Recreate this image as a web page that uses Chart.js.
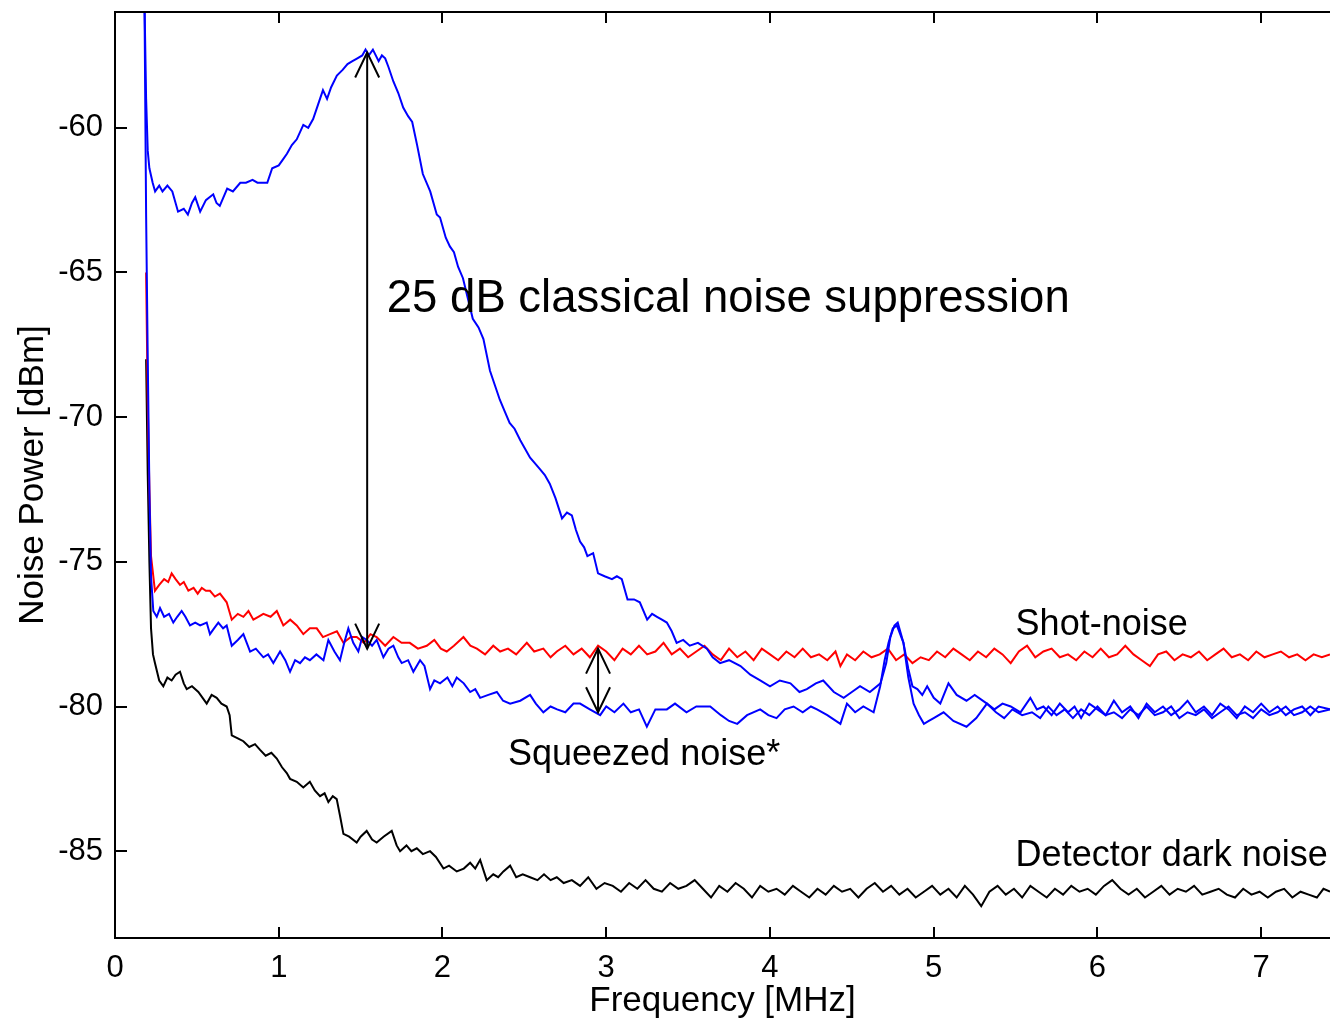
<!DOCTYPE html>
<html>
<head>
<meta charset="utf-8">
<script src="https://cdn.jsdelivr.net/npm/chart.js@4"></script>
<style>
  html, body { margin: 0; padding: 0; background: #fff; }
  canvas { display: block; }
</style>
</head>
<body>
<canvas id="noiseChart" width="1330" height="1022"></canvas>
<script>
// [frequency MHz, noise power dBm]
const classicalNoise = [
  [0.18,-55.6],[0.19,-59.0],[0.2,-60.8],[0.21,-61.4],[0.23,-61.9],[0.245,-62.2],[0.27,-62.0],[0.29,-62.2],[0.32,-62.0],[0.35,-62.2],
  [0.385,-62.9],[0.42,-62.8],[0.445,-63.0],[0.47,-62.6],[0.49,-62.4],[0.52,-62.9],[0.555,-62.5],[0.6,-62.3],[0.62,-62.6],[0.64,-62.7],
  [0.685,-62.1],[0.72,-62.2],[0.765,-61.9],[0.8,-61.9],[0.84,-61.8],[0.87,-61.9],[0.93,-61.9],[0.96,-61.4],[1.0,-61.3],[1.025,-61.1],
  [1.05,-60.9],[1.08,-60.6],[1.11,-60.4],[1.15,-59.9],[1.18,-60.0],[1.21,-59.7],[1.24,-59.2],[1.27,-58.7],[1.295,-59.0],[1.32,-58.6],
  [1.355,-58.2],[1.39,-58.0],[1.42,-57.8],[1.45,-57.7],[1.48,-57.6],[1.51,-57.5],[1.53,-57.3],[1.55,-57.5],[1.575,-57.3],[1.61,-57.7],
  [1.63,-57.5],[1.65,-57.6],[1.67,-57.9],[1.7,-58.4],[1.73,-58.8],[1.76,-59.3],[1.79,-59.6],[1.815,-59.8],[1.845,-60.6],[1.88,-61.6],
  [1.925,-62.2],[1.965,-63.0],[1.985,-63.1],[2.02,-63.8],[2.045,-64.1],[2.07,-64.3],[2.095,-64.8],[2.125,-65.2],[2.155,-65.9],[2.185,-66.6],
  [2.22,-66.9],[2.25,-67.3],[2.29,-68.4],[2.32,-68.9],[2.35,-69.4],[2.38,-69.8],[2.41,-70.2],[2.44,-70.4],[2.475,-70.8],[2.505,-71.1],
  [2.535,-71.4],[2.565,-71.6],[2.595,-71.8],[2.625,-72.0],[2.655,-72.3],[2.69,-72.8],[2.73,-73.5],[2.76,-73.3],[2.79,-73.4],[2.815,-73.9],
  [2.84,-74.3],[2.865,-74.5],[2.885,-74.8],[2.92,-74.7],[2.95,-75.4],[2.99,-75.5],[3.035,-75.6],[3.065,-75.5],[3.095,-75.6],[3.13,-76.3],
  [3.17,-76.3],[3.205,-76.4],[3.25,-77.0],[3.28,-76.8],[3.31,-76.9],[3.34,-77.0],[3.37,-77.1],[3.4,-77.4],[3.43,-77.8],[3.47,-77.7],
  [3.51,-77.9],[3.56,-77.8],[3.615,-78.0],[3.65,-78.3],[3.695,-78.5],[3.75,-78.4],[3.82,-78.6],[3.88,-78.9],[3.94,-79.1],[4.0,-79.3],
  [4.06,-79.1],[4.125,-79.2],[4.18,-79.5],[4.225,-79.4],[4.28,-79.2],[4.325,-79.1],[4.39,-79.5],[4.45,-79.7],[4.5,-79.5],[4.55,-79.3],
  [4.61,-79.5],[4.675,-79.2],[4.71,-78.5],[4.735,-77.6],[4.76,-77.2],[4.78,-77.1],[4.815,-77.8],[4.845,-78.7],[4.87,-79.3],[4.9,-79.4],
  [4.93,-79.6],[4.96,-79.3],[5.0,-79.7],[5.04,-79.9],[5.09,-79.2],[5.14,-79.6],[5.2,-79.8],[5.25,-79.6],[5.325,-79.9],[5.37,-80.1],
  [5.42,-79.9],[5.47,-80.0],[5.53,-80.2],[5.59,-79.7],[5.63,-80.1],[5.67,-80.0],[5.72,-80.3],[5.77,-79.9],[5.82,-80.2],[5.86,-80.0],
  [5.9,-80.4],[5.95,-79.9],[6.0,-80.1],[6.05,-80.3],[6.1,-79.8],[6.15,-80.2],[6.2,-80.0],[6.25,-80.4],[6.3,-79.9],[6.35,-80.2],
  [6.4,-80.0],[6.45,-80.3],[6.5,-80.1],[6.55,-79.8],[6.6,-80.2],[6.65,-80.0],[6.7,-80.3],[6.75,-79.9],[6.8,-80.1],[6.85,-80.4],
  [6.9,-80.0],[6.95,-80.2],[7.0,-79.9],[7.05,-80.2],[7.1,-80.0],[7.15,-80.3],[7.2,-80.1],[7.25,-80.0],[7.3,-80.3],[7.35,-80.0],[7.42,-80.1]
];

const squeezedNoise = [
  [0.18,-55.6],[0.19,-63.0],[0.2,-68.0],[0.21,-72.5],[0.22,-75.5],[0.234,-76.7],[0.255,-76.9],[0.275,-76.6],[0.3,-76.9],[0.33,-76.8],
  [0.356,-77.1],[0.38,-76.9],[0.407,-76.7],[0.43,-76.9],[0.458,-77.2],[0.49,-77.1],[0.52,-77.2],[0.56,-77.1],[0.58,-77.5],[0.605,-77.3],
  [0.631,-77.1],[0.66,-77.3],[0.682,-77.2],[0.713,-77.9],[0.75,-77.7],[0.784,-77.5],[0.825,-78.1],[0.86,-78.0],[0.906,-78.3],[0.935,-78.2],
  [0.967,-78.5],[1.008,-78.1],[1.04,-78.4],[1.069,-78.8],[1.1,-78.4],[1.13,-78.5],[1.16,-78.3],[1.19,-78.4],[1.23,-78.2],[1.273,-78.4],
  [1.303,-77.7],[1.34,-78.1],[1.374,-78.4],[1.4,-77.8],[1.425,-77.3],[1.455,-77.8],[1.486,-78.1],[1.51,-77.6],[1.537,-77.7],[1.57,-77.9],
  [1.598,-77.7],[1.639,-78.3],[1.67,-78.0],[1.7,-77.9],[1.73,-78.3],[1.751,-78.5],[1.79,-78.4],[1.822,-78.8],[1.863,-78.4],[1.89,-78.6],
  [1.924,-79.4],[1.95,-79.1],[1.985,-79.2],[2.03,-79.0],[2.06,-79.3],[2.087,-79.0],[2.13,-79.2],[2.169,-79.5],[2.2,-79.4],[2.23,-79.7],
  [2.28,-79.6],[2.332,-79.5],[2.37,-79.8],[2.413,-79.9],[2.475,-79.8],[2.535,-79.6],[2.57,-79.9],[2.616,-80.2],[2.66,-80.0],[2.7,-80.1],
  [2.75,-80.2],[2.8,-79.9],[2.84,-79.9],[2.9,-80.1],[2.963,-80.3],[3.0,-80.0],[3.05,-80.2],[3.105,-79.9],[3.15,-80.2],[3.2,-80.1],
  [3.248,-80.7],[3.3,-80.1],[3.37,-80.1],[3.42,-79.9],[3.49,-80.2],[3.55,-80.0],[3.635,-80.0],[3.7,-80.3],[3.75,-80.5],[3.8,-80.6],
  [3.86,-80.3],[3.94,-80.1],[3.99,-80.3],[4.04,-80.4],[4.09,-80.1],[4.144,-80.0],[4.2,-80.2],[4.25,-80.0],[4.287,-80.1],[4.35,-80.3],
  [4.43,-80.6],[4.47,-79.9],[4.52,-80.2],[4.57,-80.0],[4.633,-80.2],[4.673,-79.3],[4.7,-78.4],[4.724,-77.8],[4.75,-77.3],[4.775,-77.2],
  [4.815,-77.8],[4.845,-79.0],[4.877,-79.9],[4.91,-80.3],[4.94,-80.6],[4.97,-80.5],[5.0,-80.4],[5.06,-80.2],[5.12,-80.5],[5.2,-80.7],
  [5.26,-80.4],[5.325,-79.9],[5.38,-80.2],[5.43,-80.4],[5.48,-80.1],[5.54,-80.3],[5.6,-80.2],[5.65,-80.4],[5.7,-80.0],[5.75,-80.3],
  [5.8,-80.1],[5.85,-80.4],[5.9,-80.1],[5.95,-80.3],[6.0,-80.0],[6.05,-80.3],[6.1,-80.2],[6.15,-80.4],[6.2,-80.1],[6.25,-80.3],
  [6.3,-80.0],[6.35,-80.3],[6.4,-80.2],[6.45,-80.0],[6.5,-80.4],[6.55,-80.2],[6.6,-80.3],[6.65,-80.1],[6.7,-80.4],[6.75,-80.2],
  [6.8,-80.0],[6.85,-80.3],[6.9,-80.2],[6.95,-80.4],[7.0,-80.1],[7.05,-80.3],[7.1,-80.2],[7.15,-80.0],[7.2,-80.3],[7.25,-80.2],
  [7.3,-80.0],[7.35,-80.2],[7.42,-80.1]
];

const shotNoise = [
  [0.19,-65.0],[0.2,-69.5],[0.21,-72.5],[0.22,-74.8],[0.244,-76.0],[0.27,-75.8],[0.3,-75.6],[0.325,-75.7],[0.346,-75.4],[0.37,-75.6],
  [0.397,-75.8],[0.42,-75.7],[0.448,-76.0],[0.48,-75.9],[0.505,-76.1],[0.53,-75.9],[0.555,-76.0],[0.58,-76.0],[0.61,-76.2],[0.641,-76.1],
  [0.682,-76.4],[0.713,-77.0],[0.75,-76.8],[0.784,-76.9],[0.815,-76.7],[0.845,-77.0],[0.875,-76.9],[0.906,-76.8],[0.95,-76.9],[0.988,-76.7],
  [1.028,-77.2],[1.07,-77.0],[1.11,-77.2],[1.15,-77.5],[1.19,-77.3],[1.232,-77.3],[1.27,-77.6],[1.313,-77.5],[1.355,-77.4],[1.395,-77.8],
  [1.44,-77.6],[1.476,-77.6],[1.52,-77.8],[1.56,-77.5],[1.598,-77.6],[1.65,-77.9],[1.7,-77.6],[1.75,-77.8],[1.8,-77.8],[1.85,-78.0],
  [1.904,-77.9],[1.95,-77.7],[1.99,-78.0],[2.026,-78.1],[2.07,-77.9],[2.128,-77.6],[2.17,-77.9],[2.21,-78.0],[2.26,-78.2],[2.31,-77.9],
  [2.352,-78.1],[2.4,-78.0],[2.45,-78.2],[2.515,-77.8],[2.56,-78.1],[2.616,-78.0],[2.66,-78.3],[2.698,-78.1],[2.75,-77.9],[2.8,-78.2],
  [2.85,-78.0],[2.9,-78.3],[2.95,-77.9],[3.0,-78.1],[3.05,-78.4],[3.1,-78.0],[3.15,-78.2],[3.2,-77.9],[3.25,-78.2],[3.3,-78.1],
  [3.35,-77.8],[3.4,-78.2],[3.45,-78.0],[3.5,-78.3],[3.55,-78.1],[3.6,-77.9],[3.65,-78.2],[3.7,-78.4],[3.75,-78.0],[3.8,-78.3],
  [3.85,-78.1],[3.9,-78.4],[3.95,-78.0],[4.0,-78.2],[4.05,-78.4],[4.1,-78.1],[4.15,-78.3],[4.2,-78.0],[4.25,-78.3],[4.3,-78.2],
  [4.35,-78.4],[4.4,-78.1],[4.43,-78.6],[4.47,-78.2],[4.52,-78.4],[4.57,-78.1],[4.62,-78.3],[4.67,-78.2],[4.72,-78.0],[4.77,-78.4],
  [4.82,-78.2],[4.87,-78.5],[4.92,-78.3],[4.97,-78.4],[5.02,-78.1],[5.07,-78.3],[5.12,-78.0],[5.17,-78.2],[5.22,-78.4],[5.27,-78.1],
  [5.32,-78.3],[5.37,-78.0],[5.42,-78.2],[5.47,-78.5],[5.52,-78.1],[5.57,-77.9],[5.62,-78.3],[5.67,-78.1],[5.72,-78.0],[5.77,-78.3],
  [5.82,-78.2],[5.87,-78.4],[5.92,-78.1],[5.97,-78.3],[6.02,-78.0],[6.07,-78.3],[6.12,-78.2],[6.17,-77.9],[6.22,-78.2],[6.27,-78.4],
  [6.32,-78.6],[6.37,-78.2],[6.42,-78.1],[6.47,-78.4],[6.52,-78.2],[6.57,-78.3],[6.62,-78.1],[6.67,-78.4],[6.72,-78.2],[6.77,-78.0],
  [6.82,-78.3],[6.87,-78.2],[6.92,-78.4],[6.97,-78.1],[7.02,-78.3],[7.07,-78.2],[7.12,-78.1],[7.17,-78.3],[7.22,-78.2],[7.27,-78.4],
  [7.32,-78.2],[7.37,-78.3],[7.42,-78.2]
];

const darkNoise = [
  [0.19,-68.0],[0.2,-72.0],[0.21,-75.0],[0.22,-77.3],[0.232,-78.2],[0.244,-78.5],[0.27,-79.1],[0.295,-79.3],[0.32,-79.0],[0.346,-79.1],
  [0.37,-78.9],[0.397,-78.8],[0.42,-79.2],[0.438,-79.4],[0.47,-79.3],[0.509,-79.5],[0.535,-79.7],[0.56,-79.9],[0.59,-79.6],[0.621,-79.7],
  [0.65,-79.9],[0.682,-80.0],[0.7,-80.3],[0.713,-81.0],[0.75,-81.1],[0.784,-81.2],[0.82,-81.4],[0.855,-81.3],[0.886,-81.5],[0.92,-81.7],
  [0.955,-81.6],[0.988,-81.8],[1.02,-82.1],[1.049,-82.3],[1.069,-82.5],[1.11,-82.6],[1.15,-82.8],[1.19,-82.6],[1.22,-82.9],[1.252,-83.1],
  [1.28,-83.0],[1.303,-83.3],[1.33,-83.1],[1.354,-83.2],[1.375,-83.8],[1.395,-84.4],[1.43,-84.5],[1.476,-84.7],[1.5,-84.5],[1.537,-84.3],
  [1.57,-84.6],[1.598,-84.7],[1.64,-84.5],[1.69,-84.3],[1.72,-84.8],[1.741,-85.0],[1.78,-84.8],[1.81,-85.0],[1.843,-84.9],[1.88,-85.1],
  [1.924,-85.0],[1.96,-85.2],[2.006,-85.6],[2.04,-85.5],[2.087,-85.7],[2.13,-85.6],[2.169,-85.4],[2.2,-85.6],[2.23,-85.3],[2.27,-86.0],
  [2.31,-85.8],[2.34,-85.9],[2.372,-85.7],[2.413,-85.5],[2.45,-85.9],[2.49,-85.8],[2.535,-85.9],[2.58,-86.0],[2.62,-85.8],[2.66,-86.0],
  [2.698,-85.9],[2.74,-86.1],[2.79,-86.0],[2.84,-86.2],[2.89,-85.9],[2.94,-86.3],[2.99,-86.1],[3.04,-86.2],[3.09,-86.4],[3.14,-86.1],
  [3.19,-86.3],[3.24,-86.0],[3.29,-86.3],[3.34,-86.4],[3.39,-86.1],[3.44,-86.3],[3.49,-86.2],[3.54,-86.0],[3.59,-86.3],[3.64,-86.6],
  [3.69,-86.2],[3.74,-86.4],[3.79,-86.1],[3.84,-86.3],[3.89,-86.6],[3.94,-86.2],[3.99,-86.4],[4.04,-86.3],[4.09,-86.5],[4.14,-86.2],
  [4.19,-86.4],[4.24,-86.6],[4.29,-86.3],[4.34,-86.5],[4.39,-86.2],[4.44,-86.4],[4.49,-86.3],[4.54,-86.6],[4.59,-86.3],[4.64,-86.1],
  [4.69,-86.4],[4.74,-86.2],[4.79,-86.5],[4.84,-86.3],[4.89,-86.6],[4.94,-86.4],[4.99,-86.2],[5.04,-86.5],[5.09,-86.3],[5.14,-86.6],
  [5.19,-86.2],[5.24,-86.5],[5.29,-86.9],[5.34,-86.4],[5.39,-86.2],[5.44,-86.5],[5.49,-86.3],[5.54,-86.6],[5.59,-86.2],[5.64,-86.4],
  [5.69,-86.6],[5.74,-86.3],[5.79,-86.5],[5.84,-86.2],[5.89,-86.4],[5.94,-86.3],[5.99,-86.5],[6.04,-86.2],[6.09,-86.0],[6.14,-86.3],
  [6.19,-86.5],[6.24,-86.3],[6.29,-86.6],[6.34,-86.4],[6.39,-86.2],[6.44,-86.5],[6.49,-86.3],[6.54,-86.4],[6.59,-86.2],[6.64,-86.5],
  [6.69,-86.4],[6.74,-86.3],[6.79,-86.5],[6.84,-86.6],[6.89,-86.3],[6.94,-86.5],[6.99,-86.4],[7.04,-86.6],[7.09,-86.4],[7.14,-86.3],
  [7.19,-86.6],[7.24,-86.4],[7.29,-86.5],[7.34,-86.6],[7.38,-86.3],[7.42,-86.4]
];

const xTicks = [0, 1, 2, 3, 4, 5, 6, 7];
const yTicks = [-85, -80, -75, -70, -65, -60];

// annotation anchors in data units
const bigArrow = { f: 1.54, from: -57.4, to: -78.0 };
const smallArrow = { f: 2.95, from: -78.0, to: -80.2 };
const labels = [
  { text: '25 dB classical noise suppression', f: 1.66, db: -65.94, size: 45.5 },
  { text: 'Shot-noise', f: 5.5, db: -77.17, size: 36 },
  { text: 'Squeezed noise*', f: 2.4, db: -81.69, size: 36 },
  { text: 'Detector dark noise', f: 5.5, db: -85.17, size: 36 }
];

const FONT = "'Liberation Sans', Arial, Helvetica, sans-serif";

const toPoints = function (pairs) {
  return pairs.map(function (p) { return { x: p[0], y: p[1] }; });
};

const arrowHead = function (ctx, x, y, dir) {
  // open "V" head, dir = -1 points up, +1 points down
  ctx.beginPath();
  ctx.moveTo(x - 12, y - dir * 25);
  ctx.lineTo(x, y);
  ctx.lineTo(x + 12, y - dir * 25);
  ctx.stroke();
};

const drawArrow = function (ctx, xs, ys, a) {
  const x = xs.getPixelForValue(a.f);
  const y1 = ys.getPixelForValue(a.from);
  const y2 = ys.getPixelForValue(a.to);
  ctx.beginPath();
  ctx.moveTo(x, y1);
  ctx.lineTo(x, y2);
  ctx.stroke();
  arrowHead(ctx, x, y1, -1);
  arrowHead(ctx, x, y2, 1);
};

const framePlugin = {
  id: 'frame',
  afterDatasetsDraw: function (chart) {
    const ctx = chart.ctx;
    const area = chart.chartArea;
    const xs = chart.scales.x;
    const ys = chart.scales.y;
    ctx.save();
    ctx.strokeStyle = '#000';
    ctx.lineWidth = 2;
    ctx.beginPath();
    ctx.moveTo(area.right + 2, area.top);
    ctx.lineTo(area.left, area.top);
    ctx.lineTo(area.left, area.bottom);
    ctx.lineTo(area.right + 2, area.bottom);
    ctx.stroke();

    // MATLAB style inward ticks
    xTicks.forEach(function (t) {
      const px = Math.round(xs.getPixelForValue(t));
      ctx.beginPath();
      ctx.moveTo(px, area.bottom);
      ctx.lineTo(px, area.bottom - 11);
      ctx.moveTo(px, area.top);
      ctx.lineTo(px, area.top + 11);
      ctx.stroke();
    });
    yTicks.forEach(function (t) {
      const py = Math.round(ys.getPixelForValue(t));
      ctx.beginPath();
      ctx.moveTo(area.left, py);
      ctx.lineTo(area.left + 12, py);
      ctx.stroke();
    });

    drawArrow(ctx, xs, ys, bigArrow);
    drawArrow(ctx, xs, ys, smallArrow);

    ctx.fillStyle = '#000';
    ctx.textAlign = 'left';
    ctx.textBaseline = 'middle';
    labels.forEach(function (l) {
      ctx.font = l.size + 'px ' + FONT;
      ctx.fillText(l.text, xs.getPixelForValue(l.f), ys.getPixelForValue(l.db));
    });
    ctx.restore();
  }
};

const lineSet = function (label, pairs, color) {
  return {
    label: label,
    data: toPoints(pairs),
    borderColor: color,
    backgroundColor: color,
    borderWidth: 2,
    pointRadius: 0,
    tension: 0,
    fill: false
  };
};

const config = {
  type: 'line',
  data: {
    datasets: [
      lineSet('Classical noise', classicalNoise, '#0000ff'),
      lineSet('Squeezed noise', squeezedNoise, '#0000ff'),
      lineSet('Shot-noise', shotNoise, '#ff0000'),
      lineSet('Detector dark noise', darkNoise, '#000000')
    ]
  },
  options: {
    responsive: false,
    animation: false,
    layout: { padding: { top: 12, right: 0, left: 0, bottom: 0 } },
    plugins: {
      legend: { display: false },
      tooltip: { enabled: false }
    },
    scales: {
      x: {
        type: 'linear',
        min: 0,
        max: 7.42,
        grid: { display: false, drawTicks: false },
        border: { display: false },
        afterBuildTicks: function (scale) {
          scale.ticks = xTicks.map(function (v) { return { value: v }; });
        },
        afterFit: function (scale) {
          scale.height = 84;
          scale.paddingLeft = 0;
          scale.paddingRight = 0;
        },
        ticks: {
          color: '#000',
          padding: 12,
          maxRotation: 0,
          autoSkip: false,
          font: { family: FONT, size: 31 }
        },
        title: {
          display: true,
          text: 'Frequency [MHz]',
          color: '#000',
          font: { family: FONT, size: 35 },
          padding: { top: 0, bottom: 0 }
        }
      },
      y: {
        type: 'linear',
        min: -88,
        max: -56,
        grid: { display: false, drawTicks: false },
        border: { display: false },
        afterBuildTicks: function (scale) {
          scale.ticks = yTicks.map(function (v) { return { value: v }; });
        },
        afterFit: function (scale) {
          scale.width = 115;
          scale.paddingTop = 0;
          scale.paddingBottom = 0;
        },
        ticks: {
          color: '#000',
          padding: 12,
          autoSkip: false,
          font: { family: FONT, size: 31 }
        },
        title: {
          display: true,
          text: 'Noise Power [dBm]',
          color: '#000',
          font: { family: FONT, size: 35 },
          padding: { top: 12, bottom: 0 }
        }
      }
    }
  },
  plugins: [framePlugin]
};

new Chart(document.getElementById('noiseChart').getContext('2d'), config);
</script>
</body>
</html>
